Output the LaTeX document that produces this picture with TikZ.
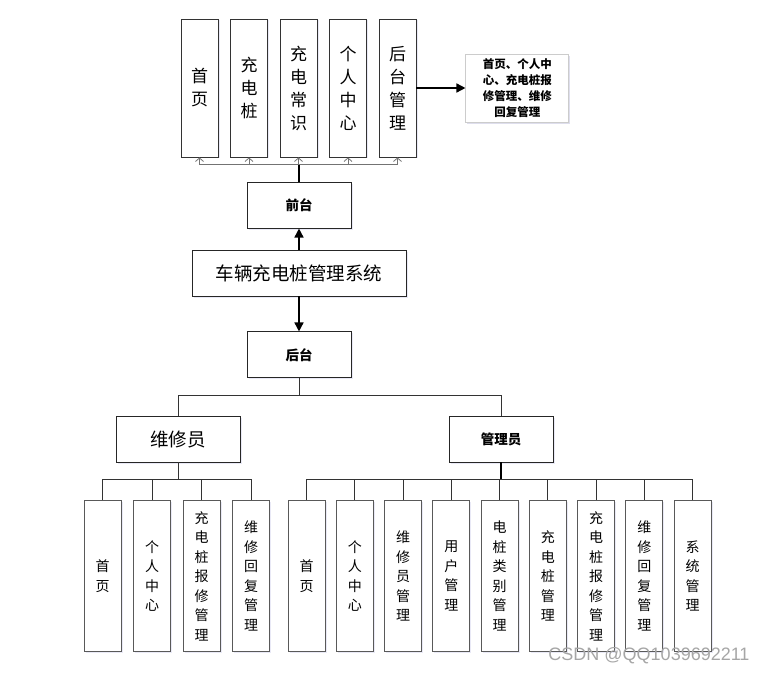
\documentclass[tikz,border=0pt]{standalone}
\usepackage{fontspec}
\newfontfamily\cjk{Noto Sans CJK SC}
\newfontfamily\wmfont{Liberation Sans}
\usetikzlibrary{arrows.meta,positioning,shadows,calc}

\begin{document}
\begin{tikzpicture}[x=1pt,y=-1pt,
  soft/.style={drop shadow={shadow xshift=1.5pt,shadow yshift=-1.5pt,opacity=0.12,fill=blue!40!gray}},
  topbox/.style={draw=black!80,line width=0.9pt,fill=white,soft,minimum width=37pt,minimum height=138pt,inner sep=0pt,align=center,font=\cjk\fontsize{17}{23}\selectfont},
  leafbox/.style={draw=black!65,line width=1pt,fill=white,soft,minimum width=37pt,minimum height=151pt,inner sep=0pt,align=center,font=\cjk\fontsize{14}{19.5}\selectfont},
  midbox/.style={draw=black!85,line width=0.9pt,fill=white,soft,minimum height=46pt,inner sep=0pt,font=\cjk\bfseries\fontsize{13.5}{16}\selectfont},
  bigbox/.style={draw=black!85,line width=0.9pt,fill=white,soft,minimum height=46pt,inner sep=0pt,font=\cjk\fontsize{18.5}{22}\selectfont},
  notebox/.style={draw=black!20,line width=0.8pt,fill=white,drop shadow={shadow xshift=1.5pt,shadow yshift=-2pt,opacity=0.2,fill=blue!30!gray},minimum width=103pt,minimum height=68pt,inner sep=0pt,align=center,font=\cjk\bfseries\fontsize{11.5}{16}\selectfont},
  feed/.style={draw=black!55,line width=0.8pt,-{Straight Barb[length=3.5pt,width=8pt]}},
  main/.style={draw=black,line width=1.6pt,-{Triangle[length=9pt,width=9pt]}},
  tree/.style={draw=black!80,line width=1pt},
  trunk/.style={draw=black,line width=1.8pt}]
  \useasboundingbox (0,0) rectangle (763,674);

  % system and two ends
  \node[bigbox,minimum width=214pt](sys) at (299,273){车辆充电桩管理系统};
  \node[midbox,minimum width=104pt,above=21pt of sys](front){前台};
  \node[midbox,minimum width=104pt,below=35pt of sys](back){后台};
  \draw[main] (sys.north) -- (front.south);
  \draw[main] (sys.south) -- (back.north);

  % front end
  \node[topbox](t1) at (199.5,88){首\\页};
  \node[topbox,right=11.6pt of t1](t2){充\\电\\桩};
  \node[topbox,right=11.6pt of t2](t3){充\\电\\常\\识};
  \node[topbox,right=11.6pt of t3](t4){个\\人\\中\\心};
  \node[topbox,right=11.6pt of t4](t5){后\\台\\管\\理};
  \node[notebox,right=49pt of t5](note){首页、个人中\\心、充电桩报\\修管理、维修\\回复管理};
  \coordinate (fbus) at ($(front.north)+(0,-17)$);
  \draw[trunk,line width=1.4pt] (front.north) -- (fbus);
  \foreach \n in {1,...,5}
    \draw[feed] (fbus) -| (t\n.south);
  \draw[main] (t5.east) -- (note.west);

  % back end
  \node[bigbox,minimum width=124pt](rep) at (178,439){维修员};
  \node[midbox,minimum width=104pt](adm) at (501,439){管理员};
  \coordinate (bbus) at ($(back.south)+(0,17)$);
  \draw[tree] (back.south) -- (bbus);
  \draw[tree] (bbus) -| (rep.north);
  \draw[tree] (bbus) -| (adm.north);

  % repairer
  \node[leafbox](r1) at (102.5,576){首\\页};
  \node[leafbox,right=11.5pt of r1](r2){个\\人\\中\\心};
  \node[leafbox,right=11.5pt of r2](r3){充\\电\\桩\\报\\修\\管\\理};
  \node[leafbox,right=11.5pt of r3](r4){维\\修\\回\\复\\管\\理};
  \coordinate (rbus) at ($(rep.south)+(0,17)$);
  \draw[tree] (rep.south) -- (rbus);
  \foreach \n in {1,...,4}
    \draw[tree] (rbus) -| (r\n.north);

  % admin
  \node[leafbox](a1) at (306.5,576){首\\页};
  \node[leafbox,right=10.25pt of a1](a2){个\\人\\中\\心};
  \node[leafbox,right=10.25pt of a2](a3){维\\修\\员\\管\\理};
  \node[leafbox,right=10.25pt of a3](a4){用\\户\\管\\理};
  \node[leafbox,right=10.25pt of a4](a5){电\\桩\\类\\别\\管\\理};
  \node[leafbox,right=10.25pt of a5](a6){充\\电\\桩\\管\\理};
  \node[leafbox,right=10.25pt of a6](a7){充\\电\\桩\\报\\修\\管\\理};
  \node[leafbox,right=10.25pt of a7](a8){维\\修\\回\\复\\管\\理};
  \node[leafbox,right=10.25pt of a8](a9){系\\统\\管\\理};
  \coordinate (abus) at ($(adm.south)+(0,17)$);
  \draw[trunk] (adm.south) -- (abus);
  \foreach \n in {1,...,9}
    \draw[tree] (abus) -| (a\n.north);

  \node[text=black!35,font=\wmfont\fontsize{18}{20}\selectfont](mark) at (649,656){CSDN @QQ1039692211};
\end{tikzpicture}
\end{document}
